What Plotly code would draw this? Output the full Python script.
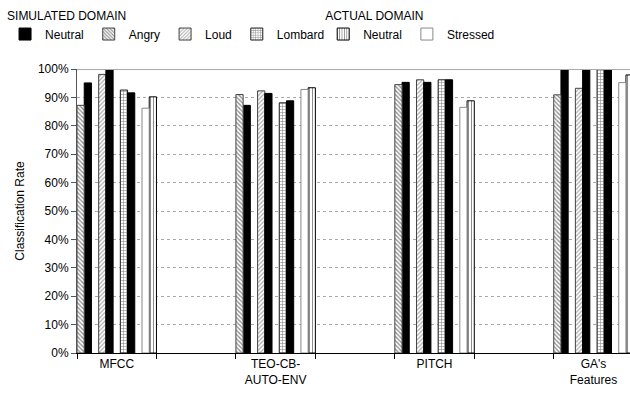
import plotly.graph_objects as go

# ---- data ----
features = ["MFCC", "TEO-CB-<br>AUTO-ENV", "PITCH", "GA's<br>Features"]
axis_categories = ["MFCC", " ", "TEO-CB-<br>AUTO-ENV", "  ", "PITCH", "   ", "GA's<br>Features"]

sim_angry = [87.2, 91.0, 94.5, 90.9]
sim_neutral_vs_angry = [95.1, 87.2, 95.3, 100.0]
sim_loud = [98.1, 92.3, 96.2, 93.2]
sim_neutral_vs_loud = [100.0, 91.4, 95.3, 100.0]
sim_lombard = [92.6, 88.1, 96.2, 100.0]
sim_neutral_vs_lombard = [91.6, 88.8, 96.2, 100.0]
act_stressed = [86.2, 92.8, 86.5, 95.2]
act_neutral = [90.2, 93.4, 88.8, 97.9]

y_ticks = [0, 10, 20, 30, 40, 50, 60, 70, 80, 90, 100]
y_tick_labels = ["0%", "10%", "20%", "30%", "40%", "50%", "60%", "70%", "80%", "90%", "100%"]

# ---- layout helpers ----
SLOTS = 11
slot_w = 1.0 / SLOTS

def off(slot):
    return -0.5 + slot * slot_w

FONT = "Liberation Sans, Arial, sans-serif"
fig = go.Figure()

def bar(name, y, slot, color, line_color, pattern=None, legend="legend", showlegend=True, group=None):
    marker = dict(color=color, line=dict(color=line_color, width=1))
    if pattern:
        marker["pattern"] = pattern
    fig.add_trace(go.Bar(
        name=name, x=features, y=y, offset=off(slot), width=slot_w,
        marker=marker, legend=legend, showlegend=showlegend,
        legendgroup=group or name,
    ))

black = "#000000"
bar("Neutral", sim_neutral_vs_angry, 1, black, black, group="simneutral")
bar("Angry", sim_angry, 0, "white", "#444444",
    dict(shape="\\", fgcolor="#222222", bgcolor="white", size=3, solidity=0.45))
bar("Loud", sim_loud, 3, "white", "#444444",
    dict(shape="/", fgcolor="#555555", bgcolor="white", size=3, solidity=0.4))
bar("Lombard", sim_lombard, 6, "white", "#222222",
    dict(shape="+", fgcolor="#111111", bgcolor="white", size=3, solidity=0.35))
bar("Neutral", sim_neutral_vs_loud, 4, black, black, showlegend=False, group="simneutral")
bar("Neutral", sim_neutral_vs_lombard, 7, black, black, showlegend=False, group="simneutral")

bar("Neutral", act_neutral, 10, "white", "#000000",
    dict(shape="|", fgcolor="#000000", bgcolor="white", size=3, solidity=0.3),
    legend="legend2")
bar("Stressed", act_stressed, 9, "white", "#888888", legend="legend2")

fig.add_shape(type="line", xref="paper", yref="y", x0=0, x1=1, y0=100, y1=100,
              line=dict(color="#aaaaaa", width=2), layer="above")

legend_common = dict(
    orientation="h", yanchor="top", xanchor="left",
    xref="container", yref="container",
    font=dict(family=FONT, size=12, color="#000"),
    bgcolor="rgba(0,0,0,0)", itemwidth=30, traceorder="normal",
    itemclick=False, itemdoubleclick=False,
)

fig.update_layout(
    width=630, height=394,
    margin=dict(l=77, r=0, t=69, b=41, autoexpand=False),
    paper_bgcolor="white", plot_bgcolor="white",
    font=dict(family=FONT, size=12, color="#000"),
    barmode="overlay",
    legend=dict(x=0.008, y=0.99,
                title=dict(text="SIMULATED DOMAIN", side="top",
                           font=dict(family=FONT, size=12, color="#000")),
                **legend_common),
    legend2=dict(x=0.513, y=0.99,
                 title=dict(text="ACTUAL DOMAIN", side="top",
                            font=dict(family=FONT, size=12, color="#000")),
                 **legend_common),
    xaxis=dict(
        type="category", categoryorder="array", categoryarray=axis_categories,
        range=[-0.5, 6.46], tickson="boundaries", ticks="outside", ticklen=5,
        tickcolor="#000", showline=True, linecolor="#000", linewidth=1,
        showgrid=False, tickfont=dict(family=FONT, size=12, color="#000"),
        automargin=False,
    ),
    yaxis=dict(
        range=[0, 100], tickmode="array", tickvals=y_ticks, ticktext=y_tick_labels,
        ticks="outside", automargin=False,
        ticklen=5, tickcolor="#555", showline=True, linecolor="#555", linewidth=1,
        showgrid=True, gridcolor="#aaaaaa", griddash="dot", gridwidth=1,
        zeroline=False, tickfont=dict(family=FONT, size=12, color="#000"),
        title=dict(text="Classification Rate", standoff=10,
                   font=dict(family=FONT, size=12, color="#000")),
    ),
)

fig.write_html(
    "out.html",
    config={"displayModeBar": False},
    post_script="document.body.style.margin='0';document.body.style.overflow='hidden';",
)
